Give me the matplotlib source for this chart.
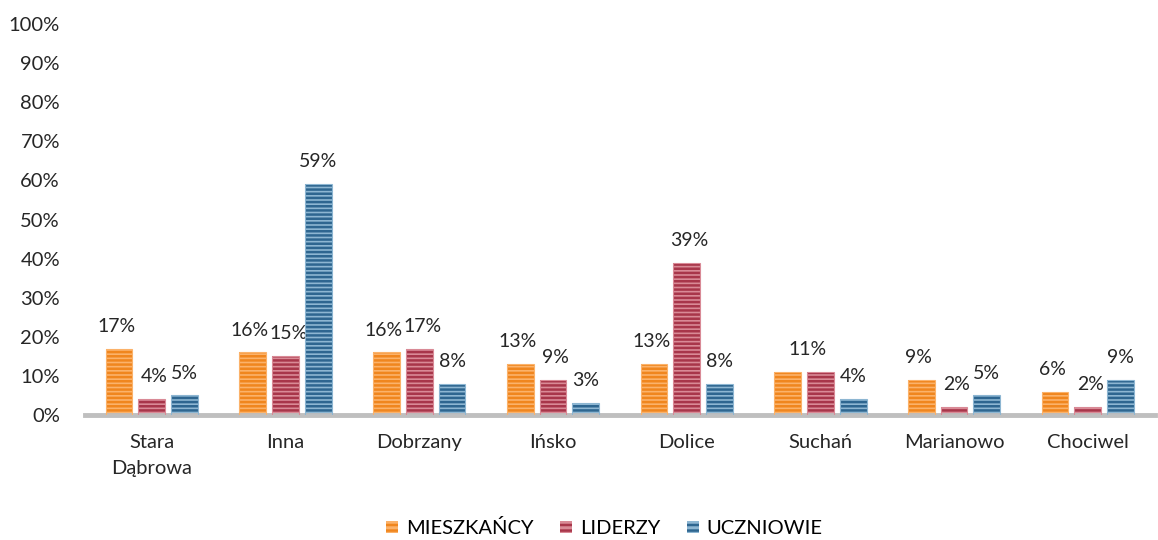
import matplotlib.pyplot as plt
import numpy as np
from matplotlib.patches import Patch

plt.rcParams['font.family'] = ['Lato', 'DejaVu Sans']
plt.rcParams['hatch.linewidth'] = 1.8

# data (percent)
places = ['Stara\nDąbrowa', 'Inna', 'Dobrzany', 'Ińsko', 'Dolice',
          'Suchań', 'Marianowo', 'Chociwel']
mieszkancy = [17, 16, 16, 13, 13, 11, 9, 6]
liderzy = [4, 15, 17, 9, 39, 11, 2, 2]
uczniowie = [5, 59, 8, 3, 8, 4, 5, 9]

series = [
    ('MIESZKAŃCY', mieszkancy, '#FBB26A', '#F0861E'),
    ('LIDERZY', liderzy, '#D98A96', '#A8364A'),
    ('UCZNIOWIE', uczniowie, '#8DB6D2', '#2E6690'),
]

fig = plt.figure(figsize=(11.58, 5.4), dpi=100)
ax = fig.add_axes([0.0734, 0.2315, 0.9237, 0.724])

x = np.arange(len(places))
width = 0.2
offsets = [-0.245, 0, 0.245]
# small sideways nudges so neighbouring labels just touch, not overlap
nudge = [-2, 2, 0]

handles = []
for (name, vals, light, dark), off, nd in zip(series, offsets, nudge):
    bars = ax.bar(x + off, vals, width, color=light, edgecolor=dark,
                  hatch='----', linewidth=0, zorder=2)
    # soft outline like the original
    ax.bar(x + off, vals, width, fill=False, edgecolor=light,
           linewidth=0.8, zorder=3)
    for i, (b, v) in enumerate(zip(bars, vals)):
        # Suchań: the two 11% labels overlap, only one is visible
        if name == 'LIDERZY' and places[i] == 'Suchań':
            continue
        dx = 14 if (name == 'MIESZKAŃCY' and places[i] == 'Suchań') else nd
        ax.annotate(f'{v}%', (b.get_x() + b.get_width() / 2, v),
                    xytext=(dx, 10), textcoords='offset points',
                    ha='center', va='bottom', fontsize=14, color='#262626')
    handles.append(Patch(facecolor=light, edgecolor=dark, hatch='---',
                         linewidth=0, label=name))

ax.set_xlim(-0.5, len(places) - 0.5)
ax.set_ylim(0, 100)
ax.set_yticks(np.arange(0, 101, 10))
ax.set_yticklabels([f'{v}%' for v in range(0, 101, 10)])
ax.set_xticks(x)
ax.set_xticklabels(places, linespacing=1.6)
ax.tick_params(axis='both', length=0, labelsize=14.5, colors='#262626')
ax.tick_params(axis='y', pad=18)
ax.tick_params(axis='x', pad=14)

for s in ['top', 'right', 'left']:
    ax.spines[s].set_visible(False)
ax.spines['bottom'].set_color('#BFBFBF')
ax.spines['bottom'].set_linewidth(3.5)

fig.legend(handles=handles, loc='lower center', ncol=3, frameon=False,
           fontsize=14.5, bbox_to_anchor=(0.522, -0.028), handlelength=0.6,
           handleheight=0.6, handletextpad=0.4, columnspacing=1.3)

fig.savefig('out.png', dpi=100)
